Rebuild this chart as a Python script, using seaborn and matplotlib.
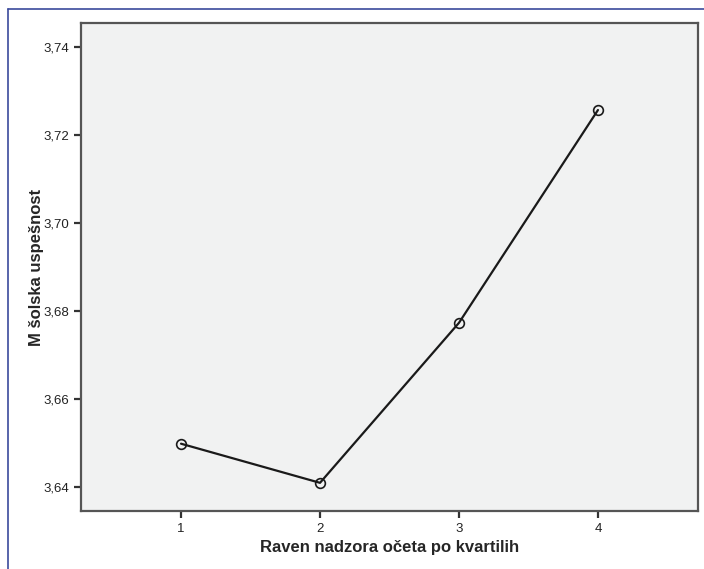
import numpy as np
import pandas as pd
import seaborn as sns
import matplotlib.pyplot as plt
from matplotlib.ticker import FuncFormatter
from matplotlib.lines import Line2D

# data
kvartili = [1, 2, 3, 4]
uspesnost = [3.6498, 3.6409, 3.6773, 3.7257]
y_ticks = [3.64, 3.66, 3.68, 3.70, 3.72, 3.74]

df = pd.DataFrame({"kvartil": kvartili, "uspesnost": uspesnost})

sns.set_style("ticks")
plt.rcParams['font.family'] = ['Liberation Sans', 'DejaVu Sans']

fig = plt.figure(figsize=(7.04, 5.69), dpi=100)
ax = fig.add_axes([0.115, 0.102, 0.8765, 0.8576])

sns.lineplot(data=df, x="kvartil", y="uspesnost", ax=ax, color="#1a1a1a",
             linewidth=1.6, marker="o", markersize=7, markerfacecolor="none",
             markeredgecolor="#1a1a1a", markeredgewidth=1.2)

ax.set_facecolor("#f1f2f2")
ax.set_xlim(0.28, 4.72)
ax.set_ylim(3.6345, 3.7455)
ax.set_xticks(kvartili)
ax.set_yticks(y_ticks)
ax.yaxis.set_major_formatter(FuncFormatter(lambda v, p: f"{v:.2f}".replace(".", ",")))

for s in ax.spines.values():
    s.set_color("#555555")
    s.set_linewidth(1.6)
ax.tick_params(axis="both", length=5, width=1.6, color="#333333", labelsize=9.5, labelcolor="#222222")

ax.set_xlabel("Raven nadzora očeta po kvartilih", fontsize=12, fontweight="bold", labelpad=4)
ax.set_ylabel("M šolska uspešnost", fontsize=12, fontweight="bold")
ax.yaxis.set_label_coords(-0.06, 0.5)

# outer frame lines (left and top)
fig.add_artist(Line2D([8 / 704, 8 / 704], [0, 1 - 9 / 569], transform=fig.transFigure, color="#3b4a9c", linewidth=1.2))
fig.add_artist(Line2D([8 / 704, 1], [1 - 9 / 569, 1 - 9 / 569], transform=fig.transFigure, color="#3b4a9c", linewidth=1.2))

plt.savefig("out.png", dpi=100)
